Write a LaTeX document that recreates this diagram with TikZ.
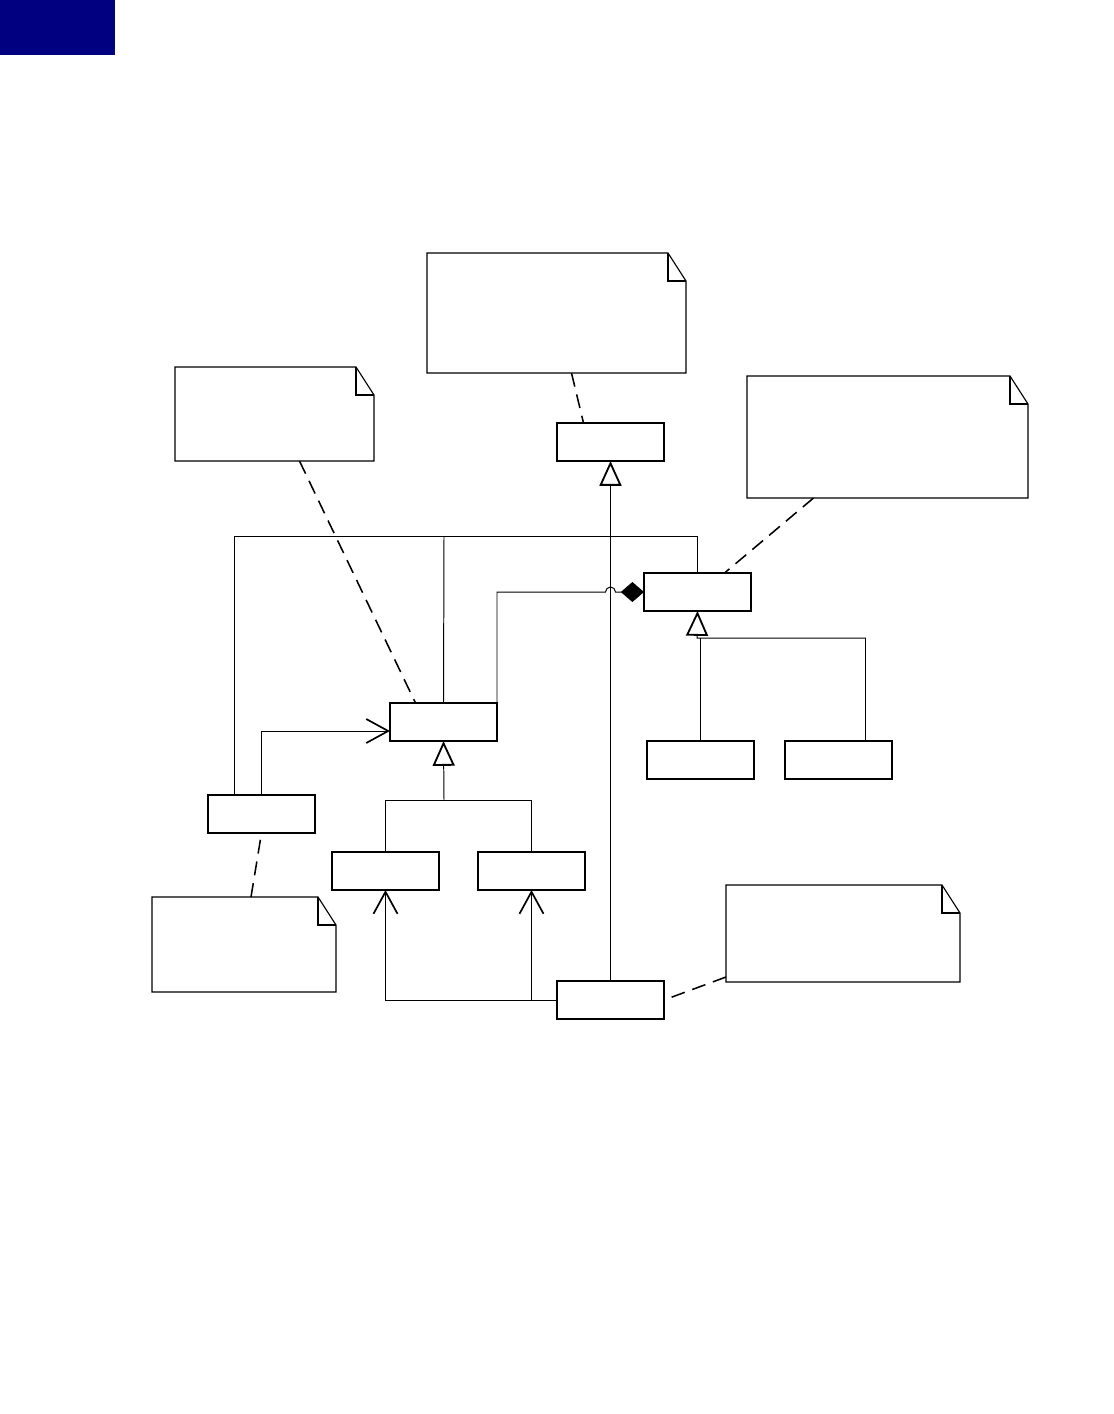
\documentclass[tikz,border=0pt]{standalone}
\usepackage{tikz}
\usetikzlibrary{arrows.meta,positioning,calc}
\definecolor{navyblock}{RGB}{0,0,128}

\begin{document}
\begin{tikzpicture}[x=0.25mm, y=-0.25mm,
    classbox/.style={draw, line width=1.4pt, inner sep=0pt, outer sep=0pt,
        anchor=north west, minimum width=107*0.25mm, minimum height=38*0.25mm},
    note/.style 2 args={inner sep=0pt, outer sep=0pt, anchor=north west,
        minimum width=#1*0.25mm, minimum height=#2*0.25mm},
    notepen/.style={line width=0.8pt},
    link/.style={line width=0.7pt},
    generalization/.style={link, -{Triangle[length=6.2mm, width=5.5mm, fill=white, line width=1.3pt]}},
    navigable/.style={link, -{Straight Barb[length=5.5mm, width=6mm, line width=1.2pt]}},
    composition/.style={link, -{Diamond[length=5.8mm, width=5mm, fill=black]}},
    anchorline/.style={line width=1.1pt, dash pattern=on 3.5mm off 2mm}]
\useasboundingbox (0,0) rectangle (1114,1414);

% ==== Page tab ====
\fill[navyblock] (0,0) rectangle (115,55);

% ==== Classes ====
\node[classbox] (A) at (557,423) {};
\node[classbox] (B) at (644,573) {};
\node[classbox] (C) at (390,703) {};
\node[classbox] (D) at (208,795) {};
\node[classbox] (E) at (332,852) {};
\node[classbox] (F) at (478,852) {};
\node[classbox] (G) at (557,981) {};
\node[classbox] (H) at (647,741) {};
\node[classbox] (I) at (785,741) {};

% ==== Notes (outline with folded corner) ====
\node[note={259}{120}] (n1) at (427,253) {};
\node[note={199}{94}]  (n2) at (175,367) {};
\node[note={281}{122}] (n3) at (747,376) {};
\node[note={184}{95}]  (n4) at (152,897) {};
\node[note={234}{97}]  (n5) at (726,885) {};
\foreach \n in {n1,n2,n3,n4,n5} {
  \draw[notepen] (\n.south west) -- (\n.north west) -- ($(\n.north east)+(-18,0)$)
      -- ($(\n.north east)+(0,28)$) -- (\n.south east) -- cycle;
  \draw[notepen] ($(\n.north east)+(-18,0)$) |- ($(\n.north east)+(0,28)$);
}

% ==== Generalizations ====
\coordinate (cfork) at (444,800);
\draw[generalization] (cfork) -- (C.south);
\draw[link] (E.north) |- (cfork) -| (F.north);
\draw[generalization] (G.north) -- (A.south);
\coordinate (hb) at (697,638);
\draw[generalization] ($(I.north)+(27,0)$) |- (hb) -- (B.south);
\draw[link] (H.north) -- (H.north |- hb);

% ==== Associations ====
\coordinate (bus) at (444,536);
\draw[link] ($(D.north)+(-27,0)$) |- (bus) -| (B.north);
\draw[link] (bus) -- (C.north);
\draw[navigable] (D.north) |- ($(C.west)+(0,9)$);
\draw[navigable] (G.west) -| (E.south);
\draw[navigable] (G.west -| F.south) -- (F.south);

% composition, hopping over the vertical line into A
\draw[composition] (C.north east) |- ($(A.south |- B.west)+(-5,0)$)
    arc[start angle=180, end angle=0, radius=1.25mm] -- (B.west);

% ==== Note anchors ====
\draw[anchorline] ($(n1.south)+(15,0)$) -- ($(A.north)+(-27,0)$);
\draw[anchorline] ($(n2.south)+(25,0)$) -- ($(C.north)+(-28,0)$);
\draw[anchorline] ($(n3.south)+(-74,0)$) -- ($(B.north)+(27,0)$);
\draw[anchorline] ($(n4.north)+(7,0)$) -- (D.south);
\draw[anchorline] ($(n5.south west)+(0,-5)$) -- (G.east);
\end{tikzpicture}
\end{document}
